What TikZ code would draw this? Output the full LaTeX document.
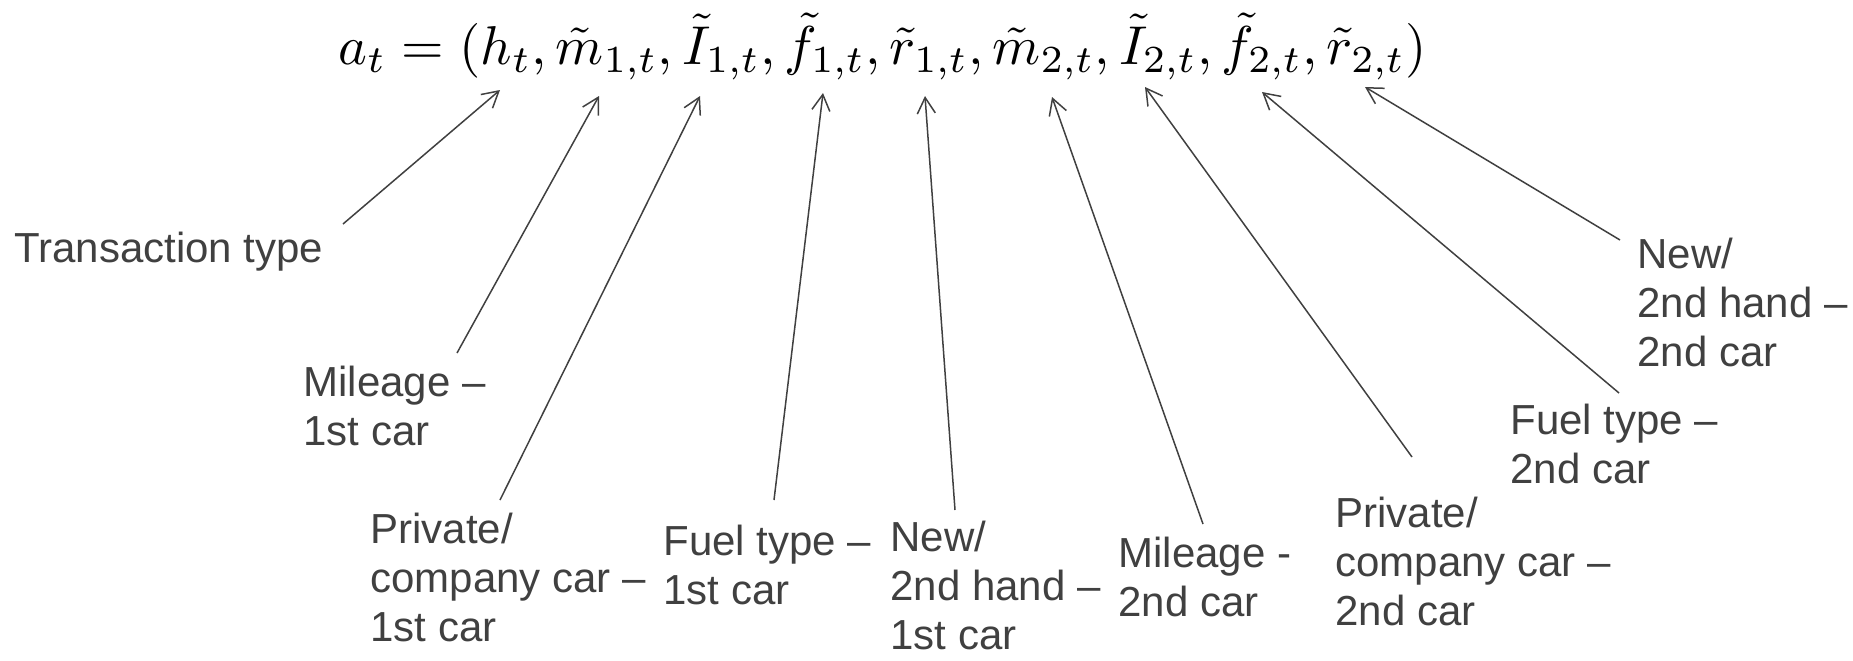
\documentclass[tikz,border=0pt]{standalone}
\usepackage{fontspec}
\usepackage{graphicx}
\setmainfont{Liberation Sans}
\usetikzlibrary{arrows.meta}
\definecolor{txtgray}{HTML}{404040}
\tikzset{
  lbl/.style={anchor=north west, inner sep=0pt, align=left, text=txtgray,
    font=\fontsize{21}{24.5}\selectfont},
  arr/.style={draw=txtgray, line width=0.75pt, -{Straight Barb[length=8pt,width=9pt]}}
}
\begin{document}
\begin{tikzpicture}[x=0.5pt, y=-0.5pt]
\useasboundingbox (0,0) rectangle (1853,660);
% equation
\node[anchor=base west, inner sep=0pt] (eq) at (338,64)
  {\resizebox{544pt}{!}{$a_t = (h_t, \tilde{m}_{1,t}, \tilde{I}_{1,t}, \tilde{f}_{1,t}, \tilde{r}_{1,t}, \tilde{m}_{2,t}, \tilde{I}_{2,t}, \tilde{f}_{2,t}, \tilde{r}_{2,t})$}};
% labels
\node[lbl] (l1) at (14,232) {Transaction type};
\node[lbl] (l2) at (303,366) {Mileage –\\1st car};
\node[lbl] (l3) at (370,513) {Private/\\company car –\\1st car};
\node[lbl] (l4) at (663,525) {Fuel type –\\1st car};
\node[lbl] (l5) at (890,521) {New/\\2nd hand –\\1st car};
\node[lbl] (l6) at (1118,537) {Mileage -\\2nd car};
\node[lbl] (l7) at (1335,497) {Private/\\company car –\\2nd car};
\node[lbl] (l8) at (1510,404) {Fuel type –\\2nd car};
\node[lbl] (l9) at (1637,238) {New/\\2nd hand –\\2nd car};
% connector ends
\coordinate (s1) at (343,224);  \coordinate (t1) at (500,90);
\coordinate (s2) at (457,353);  \coordinate (t2) at (599,96);
\coordinate (s3) at (500,500);  \coordinate (t3) at (700,96);
\coordinate (s4) at (774,500);  \coordinate (t4) at (823,93);
\coordinate (s5) at (955,510);  \coordinate (t5) at (925,96);
\coordinate (s6) at (1203,524); \coordinate (t6) at (1052,97);
\coordinate (s7) at (1412,457); \coordinate (t7) at (1145,87);
\coordinate (s8) at (1619,393); \coordinate (t8) at (1262,92);
\coordinate (s9) at (1620,240); \coordinate (t9) at (1365,87);
\foreach \i in {1,...,9} { \draw[arr] (s\i) -- (t\i); }
\end{tikzpicture}
\end{document}
